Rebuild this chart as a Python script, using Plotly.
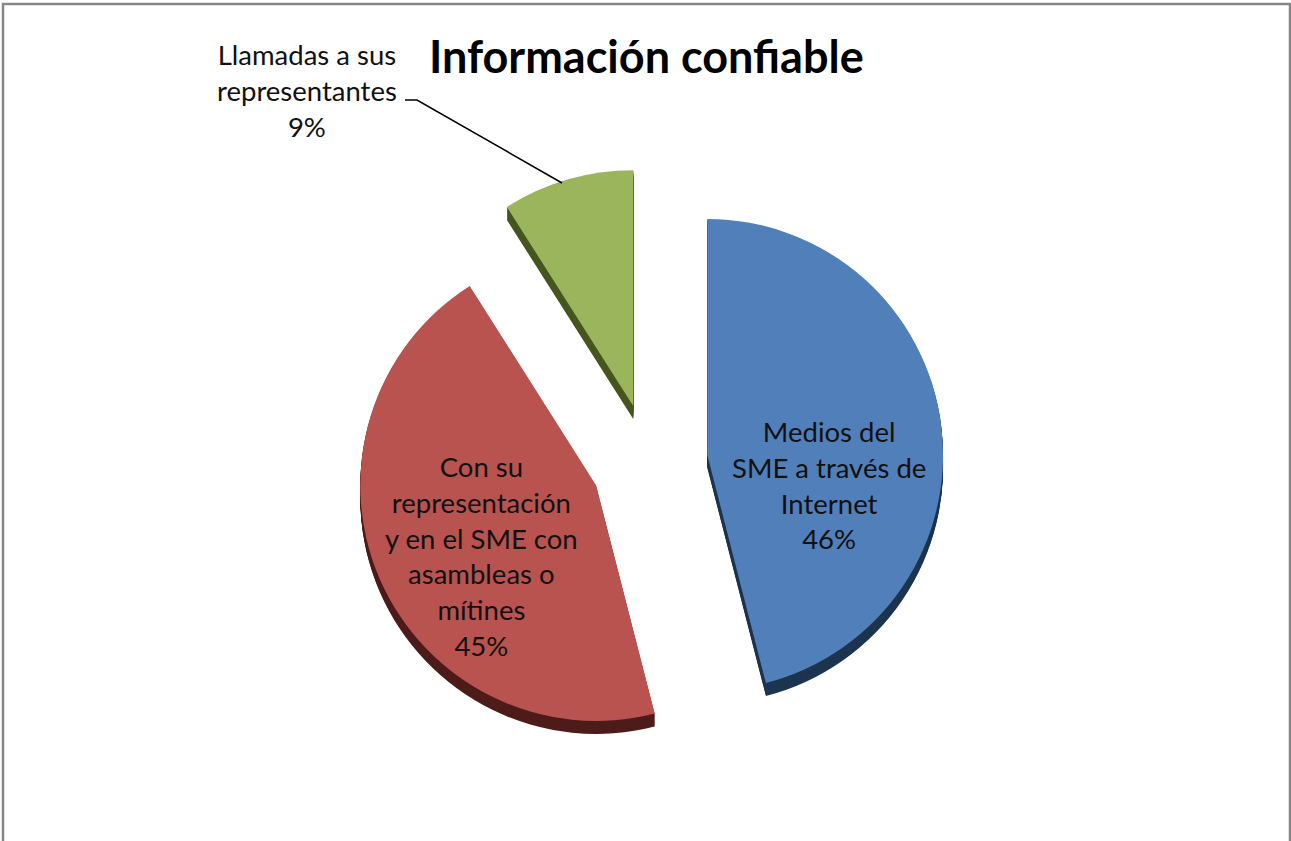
import plotly.graph_objects as go

W, H = 1291, 841

categories = ['Medios del<br>SME a través de<br>Internet',
              'Con su<br>representación<br>y en el SME con<br>asambleas o<br>mítines',
              'Llamadas a sus<br>representantes']
values = [46, 45, 9]
pulls = [0.247, 0.247, 0.247]
colors = ['#517FB9', '#B9534F', '#9AB55C']
side_colors = ['#1D3550', '#4E1C1A', '#47561F']
label_pos = [(829, 485), (482, 556), (307, 90)]

CX, CY, R = 649.5, 462, 294


def pie(dy, cols):
    # dy shifts the whole pie down, used for the extruded side
    return go.Pie(
        values=values, labels=categories, pull=pulls, sort=False,
        direction='clockwise', rotation=0, textinfo='none', hoverinfo='skip',
        showlegend=False,
        marker=dict(colors=cols, line=dict(width=0)),
        domain=dict(x=[(CX - R) / W, (CX + R) / W],
                    y=[1 - (CY + dy + R) / H, 1 - (CY + dy - R) / H]),
    )


traces = [pie(d, side_colors) for d in range(13, 0, -1)]
traces.append(pie(0, colors))
fig = go.Figure(traces)

for cat, val, (x, y) in zip(categories, values, label_pos):
    fig.add_annotation(text=f'{cat}<br>{val}%', x=x / W, y=1 - y / H, xref='paper', yref='paper',
                       xanchor='center', yanchor='middle', showarrow=False, align='center',
                       font=dict(family='Lato', size=27.5, color='#111111'))

fig.add_annotation(text='<b>Información confiable</b>', x=646 / W, y=1 - 56 / H, xref='paper', yref='paper',
                   xanchor='center', yanchor='middle', showarrow=False,
                   font=dict(family='Lato', size=45, color='#000000'))

# leader line and chart frame
leader = [(405, 100), (417, 100), (562, 183)]
path = 'M ' + ' L '.join(f'{x / W} {1 - y / H}' for x, y in leader)
fig.add_shape(type='path', path=path, xref='paper', yref='paper', line=dict(color='#000000', width=1.5))
frame = [(3, 860), (3, 4), (1290, 4), (1290, 860)]
path = 'M ' + ' L '.join(f'{x / W} {1 - y / H}' for x, y in frame)
fig.add_shape(type='path', path=path, xref='paper', yref='paper', line=dict(color='#868686', width=2.5))

fig.update_layout(width=W, height=H, margin=dict(l=0, r=0, t=0, b=0),
                  paper_bgcolor='white', plot_bgcolor='white')
# the page has a default 8px body margin, the chart should start at the corner
fig.write_html("out.html", config=dict(displayModeBar=False),
               post_script="document.body.style.margin='0';")
